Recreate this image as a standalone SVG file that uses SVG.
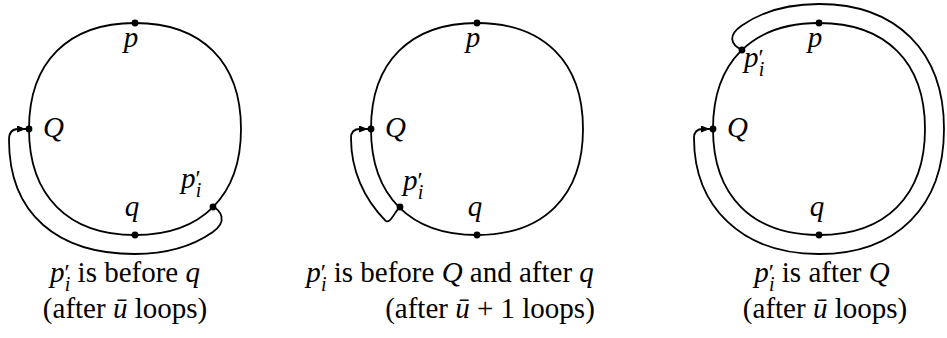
<svg xmlns="http://www.w3.org/2000/svg" xmlns:xlink="http://www.w3.org/1999/xlink" width="947" height="338" viewBox="0 0 947 338" font-family="'Liberation Serif', 'Times New Roman', Tinos, 'Noto Serif', 'DejaVu Serif', FreeSerif, serif">
<style>
.c{fill:none;stroke:#000;stroke-width:1.8}
.a{fill:none;stroke:#000;stroke-width:1.8;marker-end:url(#ah)}
.d{fill:#000}
text{font-family:'Liberation Serif','Times New Roman',Tinos,'Noto Serif','DejaVu Serif',FreeSerif,serif;font-size:29px;fill:#000}
.m{font-style:italic}
.pr{font-size:24px;font-style:normal}
.sb{font-size:20px;font-style:italic}
</style>
<defs>
<marker id="ah" markerUnits="userSpaceOnUse" markerWidth="10" markerHeight="8" refX="9" refY="3.5" orient="auto">
<path d="M0,0 L9,3.5 L0,7 Z" fill="#000"/>
</marker>
<path id="sq" d="M0,-106 C66.8,-106 106,-66.8 106,0 C106,66.8 66.8,106 0,106 C-66.8,106 -106,66.8 -106,0 C-106,-66.8 -66.8,-106 0,-106 Z"/>
</defs>

<g id="connectors">
<path class="a" d="M213,207 C220,210 228.7,221 212.5,232.3 C192.2,246.4 166,254 135,254 C57.5,254 9,214 9,140 C9,132 12,129 18,129 L26,129"/>
<path class="a" d="M400,207 C395,211 390,225 385.4,220.6 C363.9,199 351,170 351,138 C351,132 354,129 360,129 L368,129"/>
<path class="a" d="M742,50 C731,45 727.3,35.6 741.5,25.7 C761.8,11.6 788,4 819,4 C896.5,4 944,51.5 944,129 C944,206.5 896.5,254 819,254 C741.5,254 694,206.5 694,138 C694,132 697,129 703,129 L710,129"/>
</g>

<g id="diagram1">
<use xlink:href="#sq" class="c" transform="translate(135,129)"/>
<g id="d1-p"><circle class="d" cx="135" cy="23" r="3.4"/><text class="m" x="131" y="47" text-anchor="middle">p</text></g>
<g id="d1-Q"><circle class="d" cx="29" cy="129" r="3.4"/><text class="m" x="43" y="137">Q</text></g>
<g id="d1-q"><circle class="d" cx="135" cy="235" r="3.4"/><text class="m" x="132" y="216" text-anchor="middle">q</text></g>
<g id="d1-pi"><circle class="d" cx="213" cy="207" r="3.4"/><text class="m" x="181" y="188">p<tspan class="pr" dy="-2">′</tspan><tspan class="sb" dx="-5" dy="11">i</tspan></text></g>
<text x="125" y="282" text-anchor="middle"><tspan class="m">p</tspan><tspan class="pr" dy="-2">′</tspan><tspan class="sb" dx="-5" dy="11">i</tspan><tspan dy="-9"> is before </tspan><tspan class="m">q</tspan></text>
<text x="125" y="318" text-anchor="middle">(after <tspan class="m">ū</tspan> loops)</text>
</g>

<g id="diagram2">
<use xlink:href="#sq" class="c" transform="translate(477,129)"/>
<g id="d2-p"><circle class="d" cx="477" cy="23" r="3.4"/><text class="m" x="473" y="47" text-anchor="middle">p</text></g>
<g id="d2-Q"><circle class="d" cx="371" cy="129" r="3.4"/><text class="m" x="385" y="137">Q</text></g>
<g id="d2-q"><circle class="d" cx="477" cy="235" r="3.4"/><text class="m" x="475" y="216" text-anchor="middle">q</text></g>
<g id="d2-pi"><circle class="d" cx="400" cy="207" r="3.4"/><text class="m" x="403" y="190">p<tspan class="pr" dy="-2">′</tspan><tspan class="sb" dx="-5" dy="11">i</tspan></text></g>
<text x="450" y="282" text-anchor="middle"><tspan class="m">p</tspan><tspan class="pr" dy="-2">′</tspan><tspan class="sb" dx="-5" dy="11">i</tspan><tspan dy="-9"> is before </tspan><tspan class="m">Q</tspan> and after <tspan class="m">q</tspan></text>
<text x="490" y="318" text-anchor="middle">(after <tspan class="m">ū</tspan> + 1 loops)</text>
</g>

<g id="diagram3">
<use xlink:href="#sq" class="c" transform="translate(819,129)"/>
<g id="d3-p"><circle class="d" cx="819" cy="23" r="3.4"/><text class="m" x="815" y="47" text-anchor="middle">p</text></g>
<g id="d3-Q"><circle class="d" cx="713" cy="129" r="3.4"/><text class="m" x="727" y="137">Q</text></g>
<g id="d3-q"><circle class="d" cx="819" cy="235" r="3.4"/><text class="m" x="817" y="216" text-anchor="middle">q</text></g>
<g id="d3-pi"><circle class="d" cx="742" cy="50" r="3.4"/><text class="m" x="744" y="67">p<tspan class="pr" dy="-2">′</tspan><tspan class="sb" dx="-5" dy="11">i</tspan></text></g>
<text x="822" y="282" text-anchor="middle"><tspan class="m">p</tspan><tspan class="pr" dy="-2">′</tspan><tspan class="sb" dx="-5" dy="11">i</tspan><tspan dy="-9"> is after </tspan><tspan class="m">Q</tspan></text>
<text x="825" y="318" text-anchor="middle">(after <tspan class="m">ū</tspan> loops)</text>
</g>
</svg>
